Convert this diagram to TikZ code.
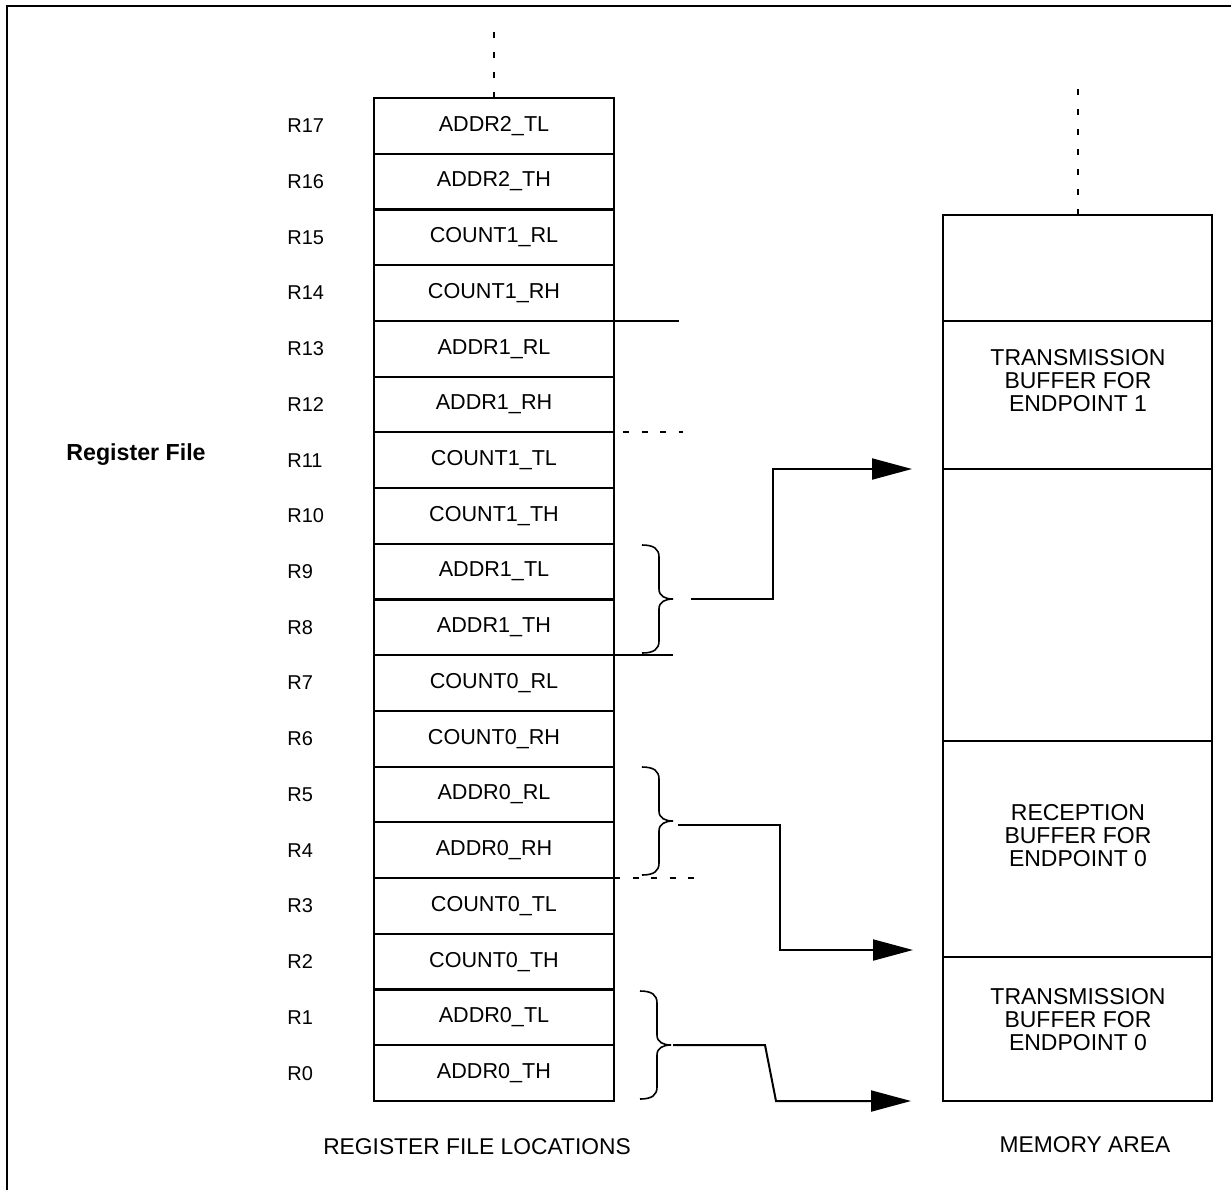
\documentclass[tikz,border=0pt]{standalone}
\usepackage{fontspec}
\setmainfont{Liberation Sans}
\usetikzlibrary{arrows.meta}
\begin{document}
\begin{tikzpicture}[x=0.5pt,y=-0.5pt,
  every node/.style={font=\fontsize{10}{11.5}\selectfont},
  reg/.style={draw,line width=1.1pt,minimum width=120pt,minimum height=27.86pt,inner sep=0pt,outer sep=0pt,anchor=center,font=\fontsize{10.8}{12}\selectfont},
  lab/.style={anchor=west,inner sep=0pt},
  mem/.style={draw,line width=1.1pt,minimum width=134.5pt,inner sep=0pt,outer sep=0pt},
  memtext/.style={align=center,inner sep=0pt,font=\fontsize{11.5}{11.5}\selectfont},
  captext/.style={font=\fontsize{11.4}{12}\selectfont},
  frameline/.style={line width=1.4pt},
  sideline/.style={line width=1pt},
  sidedash/.style={line width=1pt,dash pattern=on 3pt off 6.25pt},
  vdash/.style={line width=1pt,dash pattern=on 3pt off 7pt},
  arr/.style={line width=1pt,-{Triangle[length=20pt,width=10.5pt]}},
  bracepath/.style={line width=0.8pt},
  rbrace/.pic={
    \draw[bracepath] (-31,-54) .. controls (-19,-54) and (-14,-50) .. (-14,-42)
      -- (-14,-10) .. controls (-14,-3) and (-8,0) .. (0,0)
      .. controls (-8,0) and (-14,3) .. (-14,10)
      -- (-14,42) .. controls (-14,50) and (-19,54) .. (-31,54);
  }
]
\useasboundingbox (0,0) rectangle (1231,1190);

% frame
\draw[frameline] (1231,6) -- (7,6) -- (7,1190);

% register file
\foreach \k/\t in {17/ADDR2\_TL,16/ADDR2\_TH,15/COUNT1\_RL,14/COUNT1\_RH,
                   13/ADDR1\_RL,12/ADDR1\_RH,11/COUNT1\_TL,10/COUNT1\_TH,
                   9/ADDR1\_TL,8/ADDR1\_TH,7/COUNT0\_RL,6/COUNT0\_RH,
                   5/ADDR0\_RL,4/ADDR0\_RH,3/COUNT0\_TL,2/COUNT0\_TH,
                   1/ADDR0\_TL,0/ADDR0\_TH}{
  \pgfmathsetmacro\yy{98+55.72*(17.5-\k)}
  \node[reg] (r\k) at (494,\yy) {\t};
  \node[lab] (l\k) at (287,\yy) {R\k};
}

\node[font=\fontsize{11.6}{12}\selectfont\bfseries] (rf) at (136,455) {Register File};

% dashed continuation lines
\draw[vdash] (r17.north) -- ++(0,-68);

% side marks
\draw[sideline] (r14.south east) -- ++(65,0);
\draw[sidedash] ([xshift=4.5pt]r12.south east) -- ++(60,0);
\draw[sideline] (r8.south east) -- ++(59,0);
\draw[sidedash] (r4.south east) -- ++(81,0);

% braces
\coordinate (b1) at (673,599);
\coordinate (b2) at (673,821);
\coordinate (b3) at (671,1045);
\pic at (b1) {rbrace};
\pic at (b2) {rbrace};
\pic at (b3) {rbrace};

% memory area
\node[mem,minimum height=53pt] (m0) at (1077.5,268) {};
\node[mem,minimum height=74pt] (m1) at (1077.5,395) {};
\node[mem,minimum height=136pt] (m2) at (1077.5,605) {};
\node[mem,minimum height=108pt] (m3) at (1077.5,849) {};
\node[mem,minimum height=72pt] (m4) at (1077.5,1029) {};
\draw[vdash] (m0.north) -- ++(0,-135);

\node[memtext] (t1) at (1078,381) {TRANSMISSION\\BUFFER FOR\\ENDPOINT 1};
\node[memtext] (t3) at (1078,836) {RECEPTION\\BUFFER FOR\\ENDPOINT 0};
\node[memtext] (t4) at (1078,1020) {TRANSMISSION\\BUFFER FOR\\ENDPOINT 0};

% arrows
\coordinate (e1) at (912,469);
\coordinate (e2) at (913,950);
\coordinate (e3) at (911,1101);
\draw[arr] ([xshift=9pt]b1) -- ++(82,0) |- (e1);
\draw[arr] ([shift={(5,4)}]b2) -- ++(102,0) |- (e2);
\draw[arr] ([xshift=1pt]b3) -- ++(92,0) -- ++(11,56) -- (e3);

% captions
\node[captext] (c1) at (477,1147) {REGISTER FILE LOCATIONS};
\node[captext] (c2) at (1085,1145) {MEMORY AREA};
\end{tikzpicture}
\end{document}
